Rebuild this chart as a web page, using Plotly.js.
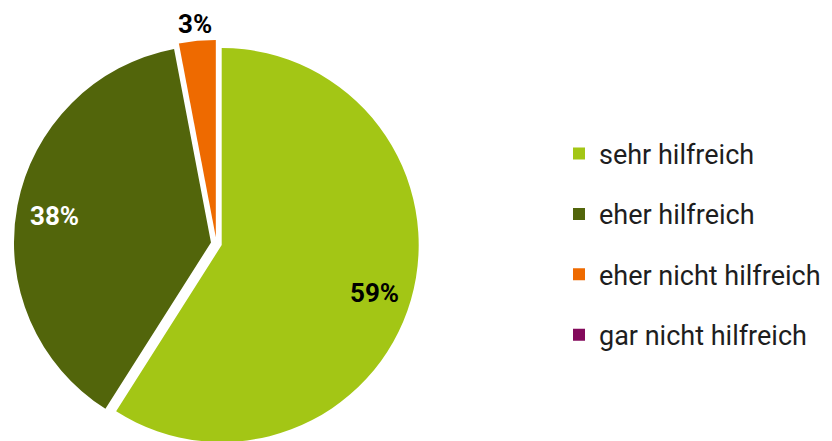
<!DOCTYPE html>
<html>
<head>
<meta charset="utf-8">
<script src="https://cdn.plot.ly/plotly-3.0.1.min.js"></script>
<style>
html,body{margin:0;padding:0;overflow:hidden;background:#fff;}
#chart{width:832px;height:450px;}
</style>
</head>
<body>
<div id="chart"></div>
<script>
const categories = ["sehr hilfreich", "eher hilfreich", "eher nicht hilfreich", "gar nicht hilfreich"];
const shares = [59, 38, 3, 0];
const colors = ["#a3c615", "#52650b", "#ee6a00", "#830a5b"];
const labelColors = ["#000000", "#ffffff", "#000000", "#000000"];
const pulls = [0.028, 0.028, 0.033, 0];

const W = 832, H = 450;
// pie geometry (pixels)
const R = 197;
const maxPull = Math.max(...pulls);
const half = R * (1 + maxPull);
const CX = 216.4, CY = 243.5;
const domX = [(CX - 215) / W, (CX + 215) / W];
const domY = [1 - (CY + half) / H, 1 - (CY - half) / H];

const pie = {
  type: "pie",
  labels: categories,
  values: shares,
  sort: false,
  direction: "clockwise",
  rotation: 0,
  pull: pulls,
  marker: {colors: colors, line: {width: 0}},
  textinfo: "none",
  showlegend: false,
  hoverinfo: "label+percent",
  domain: {x: domX, y: domY}
};

// percentage labels placed along each slice bisector
const total = shares.reduce((a, b) => a + b, 0);
const annotations = [];
let cum = 0;
shares.forEach((v, i) => {
  const frac = v / total;
  const mid = (cum + frac / 2) * 2 * Math.PI;
  cum += frac;
  if (v <= 0) return;
  const outside = frac < 0.05;
  const rr = R * ((outside ? 1.099 : 0.81) + pulls[i]);
  const px = CX + rr * Math.sin(mid);
  const py = CY - rr * Math.cos(mid);
  annotations.push({
    xref: "paper", yref: "paper",
    x: px / W, y: 1 - py / H,
    xanchor: "center", yanchor: "middle",
    yshift: -3,
    showarrow: false,
    text: Math.round(frac * 100) + "%",
    font: {family: "Roboto, sans-serif", size: 26, weight: 700, color: labelColors[i]}
  });
});

const legendTraces = categories.map((c, i) => ({
  type: "scatter",
  mode: "markers",
  x: [null], y: [null],
  name: c,
  legendgroup: "g" + i,
  marker: {symbol: "square", size: 12, color: colors[i]},
  hoverinfo: "skip"
}));

const layout = {
  width: W, height: H,
  margin: {l: 0, r: 0, t: 0, b: 0},
  paper_bgcolor: "#ffffff",
  plot_bgcolor: "#ffffff",
  xaxis: {visible: false},
  yaxis: {visible: false},
  showlegend: true,
  annotations: annotations,
  legend: {
    x: 559 / W, xanchor: "left",
    y: 1 - 129.5 / H, yanchor: "top",
    traceorder: "grouped",
    tracegroupgap: 22.3,
    font: {family: "Roboto, sans-serif", size: 27, color: "#1e1e1e"},
    bgcolor: "rgba(0,0,0,0)"
  }
};

Plotly.newPlot("chart", [pie, ...legendTraces], layout, {displayModeBar: false, staticPlot: true});
</script>
</body>
</html>
